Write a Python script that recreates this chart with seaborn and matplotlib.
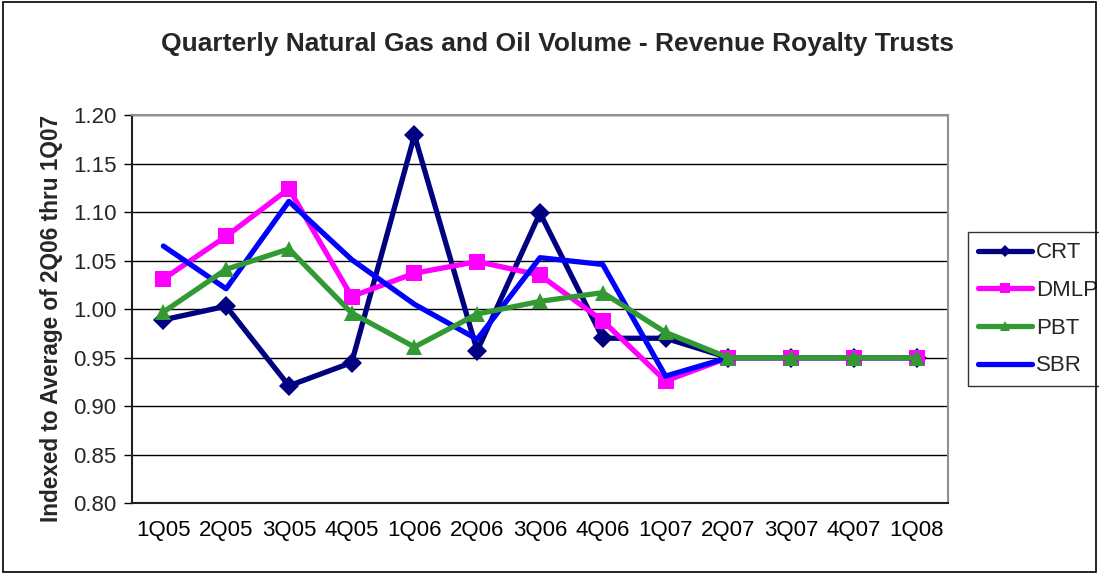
import numpy as np
import matplotlib.pyplot as plt
import seaborn as sns
import pandas as pd
from matplotlib.patches import Rectangle

sns.set_theme(style="white")
plt.rcParams['font.family'] = ['Liberation Sans', 'DejaVu Sans']

# Data
quarters = ['1Q05', '2Q05', '3Q05', '4Q05', '1Q06', '2Q06', '3Q06',
            '4Q06', '1Q07', '2Q07', '3Q07', '4Q07', '1Q08']
crt = [0.989, 1.003, 0.921, 0.945, 1.179, 0.957, 1.099, 0.970, 0.970, 0.950, 0.950, 0.950, 0.950]
dmlp = [1.031, 1.075, 1.124, 1.013, 1.037, 1.049, 1.035, 0.988, 0.926, 0.950, 0.950, 0.950, 0.950]
pbt = [0.997, 1.041, 1.062, 0.996, 0.961, 0.995, 1.008, 1.017, 0.976, 0.950, 0.950, 0.950, 0.950]
sbr = [1.065, 1.021, 1.111, 1.051, 1.005, 0.969, 1.053, 1.046, 0.931, 0.950, 0.950, 0.950, 0.950]

series = {'CRT': crt, 'DMLP': dmlp, 'PBT': pbt, 'SBR': sbr}
colors = {'CRT': '#000080', 'DMLP': '#FF00FF', 'PBT': '#339933', 'SBR': '#0000FF'}
markers = {'CRT': 'D', 'DMLP': 's', 'PBT': '^', 'SBR': ''}
msizes = {'CRT': 10, 'DMLP': 11, 'PBT': 12, 'SBR': 0}
zorders = {'CRT': 3, 'DMLP': 4, 'SBR': 5, 'PBT': 6}

df = pd.DataFrame([
    {'Quarter': q, 'Trust': name, 'Value': v}
    for name, vals in series.items()
    for q, v in zip(quarters, vals)
])

fig = plt.figure(figsize=(10.99, 5.74), dpi=100)
ax = fig.add_axes([0.1201, 0.1232, 0.7425, 0.6765])

for name in ['CRT', 'DMLP', 'SBR', 'PBT']:
    sub = df[df['Trust'] == name]
    sns.lineplot(data=sub, x='Quarter', y='Value', ax=ax, color=colors[name],
                 linewidth=3.8, marker=markers[name] if markers[name] else None,
                 markersize=msizes[name], markeredgewidth=0, label=name,
                 zorder=zorders[name], sort=False)

ax.set_xlim(-0.5, len(quarters) - 0.5)
ax.set_ylim(0.80, 1.20)
ax.set_yticks(np.arange(0.80, 1.201, 0.05))
ax.set_yticklabels([f'{v:.2f}' for v in np.arange(0.80, 1.201, 0.05)], fontsize=16)
ax.set_xticks(range(len(quarters)))
ax.set_xticklabels(quarters, fontsize=16)
ax.set_xticks(np.arange(-0.5, len(quarters), 1.0), minor=True)
ax.tick_params(axis='x', which='major', length=0, pad=12, colors='black')
ax.tick_params(axis='x', which='minor', length=6, width=1, color='black', direction='out')
ax.tick_params(axis='y', length=6, width=1, color='black', direction='out', left=True, pad=5)
ax.yaxis.grid(True, color='black', linewidth=1)
ax.xaxis.grid(False)
ax.set_axisbelow(True)

ax.set_xlabel('')
ax.set_ylabel('Indexed to Average of 2Q06 thru 1Q07', fontsize=16.3, fontweight='bold')
ax.yaxis.set_label_coords(-0.085, 0.475)

for side in ['top', 'right']:
    ax.spines[side].set_color('#909090')
    ax.spines[side].set_linewidth(1.5)
for side in ['left', 'bottom']:
    ax.spines[side].set_color('#202020')
    ax.spines[side].set_linewidth(1.5)

fig.suptitle('Quarterly Natural Gas and Oil Volume - Revenue Royalty Trusts',
             x=0.507, y=0.945, fontsize=19, fontweight='bold')

handles, labels = ax.get_legend_handles_labels()
order = ['CRT', 'DMLP', 'PBT', 'SBR']
hmap = dict(zip(labels, handles))
leg = ax.legend([hmap[k] for k in order], order, loc='upper left',
                bbox_to_anchor=(0.881, 0.595), bbox_transform=fig.transFigure,
                fontsize=16, frameon=True, fancybox=False, edgecolor='black',
                borderpad=0.45, labelspacing=0.75, handlelength=2.4, handletextpad=0.2,
                borderaxespad=0, markerscale=0.6)
leg.get_frame().set_linewidth(1.0)

fig.patches.append(Rectangle((0.003, 0.003), 0.994, 0.994, transform=fig.transFigure,
                             fill=False, edgecolor='black', linewidth=1.2))

plt.savefig('out.png', dpi=100)
plt.close()
